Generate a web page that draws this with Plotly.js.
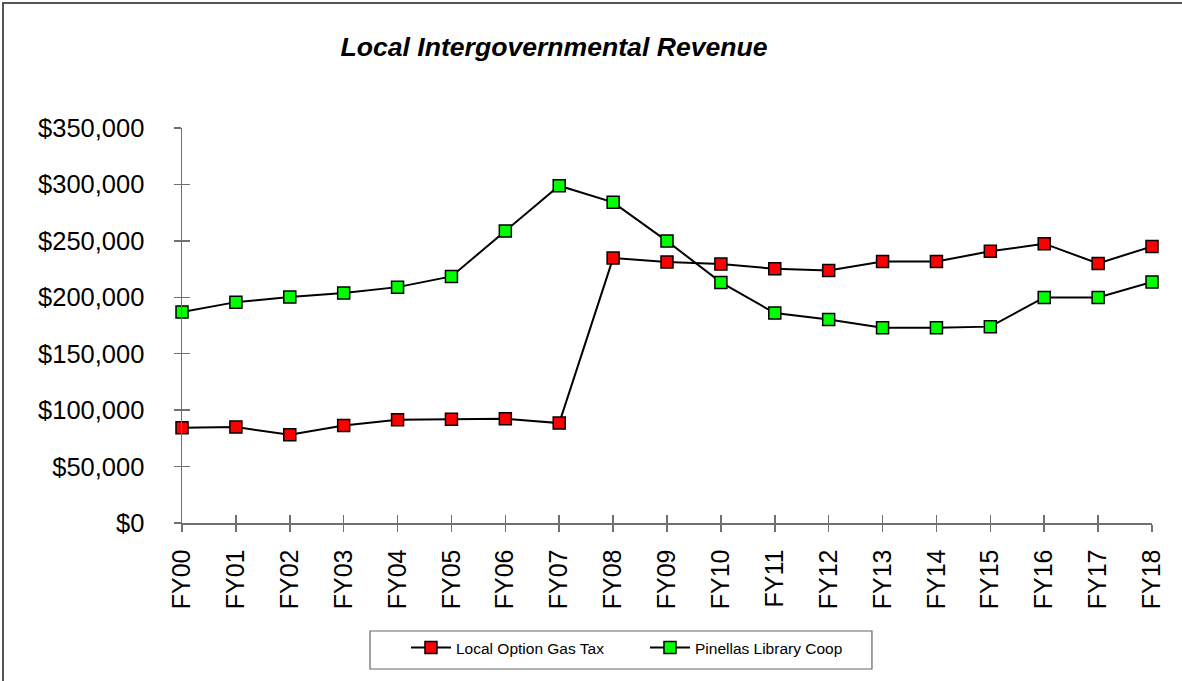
<!DOCTYPE html>
<html>
<head>
<meta charset="utf-8">
<script src="https://cdn.plot.ly/plotly-3.0.1.min.js"></script>
<style>
html,body{margin:0;padding:0;background:#fff;overflow:hidden;width:1182px;height:681px;}
#frame{position:absolute;left:2px;top:2px;width:1180px;height:679px;border-left:2px solid #555;border-top:2px solid #555;box-sizing:border-box;pointer-events:none;z-index:10;}
#chart{position:absolute;left:0;top:0;width:1182px;height:681px;}
</style>
</head>
<body>
<div id="chart"></div>
<div id="frame"></div>
<script>
const categories = ["FY00","FY01","FY02","FY03","FY04","FY05","FY06","FY07","FY08","FY09","FY10","FY11","FY12","FY13","FY14","FY15","FY16","FY17","FY18"];
const gasTax = [84400, 85000, 78200, 86400, 91500, 92000, 92400, 88500, 234700, 231200, 229400, 225300, 223800, 231800, 231800, 240700, 247500, 230000, 245100];
const libraryCoop = [186900, 195700, 200200, 203700, 209000, 218500, 258700, 298900, 284100, 249800, 213200, 186000, 180400, 173000, 173000, 174000, 199900, 199900, 213500];
const seriesNames = ["Local Option Gas Tax", "Pinellas Library Coop"];
const yTicks = [0, 50000, 100000, 150000, 200000, 250000, 300000, 350000];

const FONT = "'Liberation Sans', Arial, sans-serif";
const mk = (color) => ({symbol: 'square', size: 12, color: color, line: {color: '#000', width: 1.5}});

const traces = [
  {x: categories, y: gasTax, name: seriesNames[0], type: 'scatter', mode: 'lines+markers', cliponaxis: false,
   line: {color: '#000', width: 2}, marker: mk('#FF0000')},
  {x: categories, y: libraryCoop, name: seriesNames[1], type: 'scatter', mode: 'lines+markers', cliponaxis: false,
   line: {color: '#000', width: 2}, marker: mk('#00FF00')}
];

const axisColor = '#707070';
const layout = {
  width: 1182, height: 681,
  margin: {l: 182, r: 30, t: 128, b: 158},
  paper_bgcolor: '#fff', plot_bgcolor: '#fff',
  font: {family: FONT, color: '#000'},
  title: {text: 'Local Intergovernmental Revenue', xref: 'container', yref: 'container',
          x: 0.4687, xanchor: 'center', y: 0.931, yanchor: 'middle',
          font: {family: FONT, size: 26.6, weight: 700, style: 'italic', color: '#000'}},
  xaxis: {type: 'category', range: [0, categories.length - 1], showgrid: false, zeroline: false,
          showline: true, linecolor: axisColor, linewidth: 1.5,
          ticks: 'outside', ticklen: 7, tickcolor: axisColor, tickwidth: 1.5,
          tickangle: -90, tickfont: {family: FONT, size: 25, color: '#000'},
          ticklabelstandoff: 8},
  yaxis: {range: [0, 350000], tickvals: yTicks, tickformat: '$,.0f', showgrid: false, zeroline: false,
          showline: true, linecolor: axisColor, linewidth: 1.5,
          ticks: 'outside', ticklen: 7, tickcolor: axisColor, tickwidth: 1.5,
          tickfont: {family: FONT, size: 25.5, color: '#000'}, ticklabelstandoff: 24},
  xaxis2: {type: 'category', overlaying: 'x', anchor: 'y2', range: [0, categories.length - 1],
           categoryarray: categories, tickvals: categories, showticklabels: false, showgrid: false, zeroline: false,
           showline: false, ticks: 'inside', ticklen: 8, tickcolor: axisColor, tickwidth: 1.5, side: 'bottom'},
  yaxis2: {overlaying: 'y', anchor: 'x2', range: [0, 350000], tickvals: yTicks, showticklabels: false,
           showgrid: false, zeroline: false, showline: false,
           ticks: 'inside', ticklen: 8, tickcolor: axisColor, tickwidth: 1.5, side: 'left'},
  showlegend: true,
  legend: {orientation: 'h', x: 0.2309, xanchor: 'left', y: -0.2734, yanchor: 'top',
           borderwidth: 0, bgcolor: 'rgba(0,0,0,0)',
           font: {family: FONT, size: 15.5, color: '#000'}, entrywidth: 184, itemwidth: 40},
  shapes: [{type: 'rect', xref: 'paper', yref: 'paper', x0: 0.1938, x1: 0.7113, y0: -0.2734, y1: -0.3696,
            line: {color: '#666', width: 1.2}, fillcolor: 'rgba(0,0,0,0)', layer: 'below'}]
};

traces.push({x: categories, y: gasTax.map(() => null), xaxis: 'x2', yaxis: 'y2', showlegend: false,
             hoverinfo: 'skip', type: 'scatter', mode: 'lines'});

Plotly.newPlot('chart', traces, layout, {displayModeBar: false, staticPlot: true});
</script>
</body>
</html>
